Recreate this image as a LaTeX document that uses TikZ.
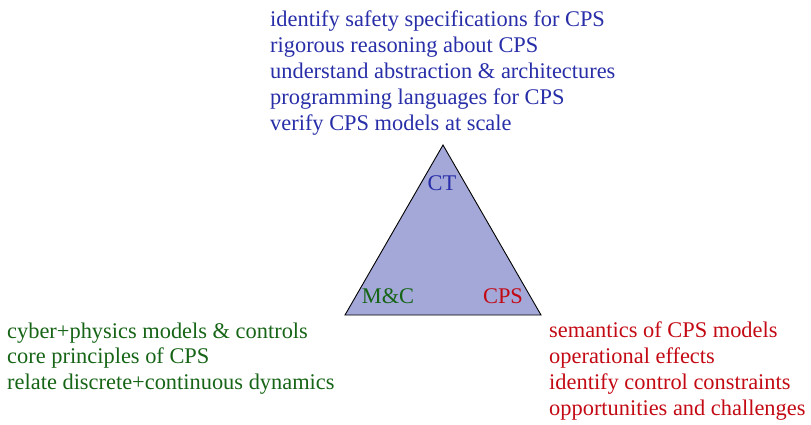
\documentclass[tikz,border=0pt]{standalone}
\usepackage{fontspec}
\setmainfont{Liberation Serif}
\definecolor{ctblue}{RGB}{40,46,168}
\definecolor{mcgreen}{RGB}{22,100,22}
\definecolor{cpsred}{RGB}{195,10,20}
\definecolor{trifill}{RGB}{163,168,216}
\tikzset{
  txt/.style={inner sep=0pt, anchor=base west, align=left,
    font=\fontsize{22.4}{25.8}\selectfont},
  lbl/.style={inner sep=0pt, anchor=base, font=\fontsize{22.4}{25.8}\selectfont},
  tri/.style={draw=black, fill=trifill, line width=0.9pt, line join=miter}
}
\begin{document}
\begin{tikzpicture}[x=1pt,y=-1pt]
\useasboundingbox (0,0) rectangle (811,424);
\coordinate (top) at (443,145);
\coordinate (bl) at (345,315);
\coordinate (br) at (541,315);
\draw[tri] (top) -- (bl) -- (br) -- cycle;
\node[lbl, text=ctblue] (ct) at (442,190) {CT};
\node[lbl, text=mcgreen] (mc) at (388,303) {M\&C};
\node[lbl, text=cpsred] (cps) at (503,303) {CPS};
% base anchor of a multi-line node lies on its last line
\node[txt, text=ctblue] (cttxt) at (270,130) {identify safety specifications for CPS\\
rigorous reasoning about CPS\\
understand abstraction \& architectures\\
programming languages for CPS\\
verify CPS models at scale};
\node[txt, text=mcgreen] (mctxt) at (7,389.6) {cyber+physics models \& controls\\
core principles of CPS\\
relate discrete+continuous dynamics};
\node[txt, text=cpsred] (cpstxt) at (549,415) {semantics of CPS models\\
operational effects\\
identify control constraints\\
opportunities and challenges};
\end{tikzpicture}
\end{document}
